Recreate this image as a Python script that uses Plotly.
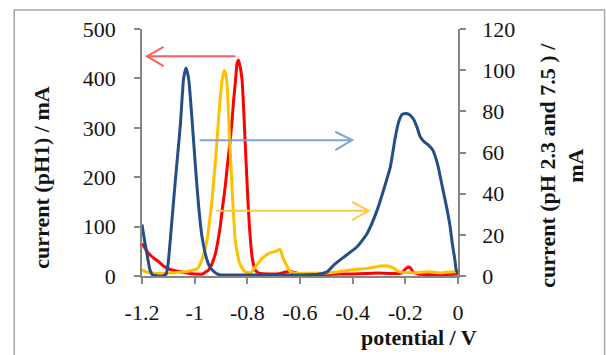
import plotly.graph_objects as go

# ---------------- data ----------------
x_ticks = [-1.2, -1.0, -0.8, -0.6, -0.4, -0.2, 0.0]
x_tick_text = ["-1.2", "-1", "-0.8", "-0.6", "-0.4", "-0.2", "0"]
y_left_ticks = [0, 100, 200, 300, 400, 500]
y_right_ticks = [0, 20, 40, 60, 80, 100, 120]

# pH 1 (left axis, red)
red_x = [-1.200, -1.185, -1.168, -1.150, -1.137, -1.120, -1.105, -1.080, -1.054, -1.020,
         -1.000, -0.970, -0.959, -0.947, -0.934, -0.921, -0.912, -0.903, -0.894, -0.884,
         -0.875, -0.865, -0.858, -0.852, -0.845, -0.839, -0.833, -0.826, -0.820, -0.815,
         -0.811, -0.806, -0.801, -0.797, -0.792, -0.787, -0.782, -0.776, -0.770, -0.760,
         -0.751, -0.720, -0.690, -0.674, -0.655, -0.637, -0.620, -0.600, -0.550, -0.500,
         -0.450, -0.400, -0.350, -0.300, -0.250, -0.215, -0.200, -0.190, -0.180, -0.170,
         -0.150, -0.100, -0.050, 0.000]
red_y = [66, 53, 42, 34, 29, 21, 16, 11, 8.5, 5,
         4, 4, 8, 12, 25, 46, 70, 100, 140, 181,
         228, 275, 315, 356, 395, 430, 437, 420, 397, 350,
         302, 245, 188, 145, 100, 65, 39, 22, 12, 7,
         5, 4, 4, 5, 8, 9, 7, 4, 3, 3,
         4, 4, 5, 6, 5, 6, 14, 18, 16, 8,
         4, 3, 3, 4]

# pH 2.3 (right axis, dark blue)
blue_x = [-1.200, -1.190, -1.180, -1.170, -1.160, -1.140, -1.120, -1.108, -1.100, -1.093,
          -1.083, -1.073, -1.063, -1.054, -1.042, -1.033, -1.023, -1.010, -0.997, -0.985,
          -0.972, -0.956, -0.945, -0.934, -0.915, -0.900, -0.800, -0.700, -0.600, -0.530,
          -0.497, -0.470, -0.428, -0.383, -0.345, -0.307, -0.282, -0.257, -0.238, -0.225,
          -0.212, -0.200, -0.185, -0.168, -0.155, -0.143, -0.127, -0.111, -0.095, -0.086,
          -0.076, -0.067, -0.054, -0.041, -0.030, -0.022, -0.012, -0.007, 0.000]
blue_y = [25, 17, 10, 3, 0.5, 0, 0, 1, 7, 17,
          32, 47, 61, 74, 96, 101, 96, 76, 53, 34,
          19, 9, 5, 3, 1, 0.5, 0.5, 0.5, 0.5, 0.8,
          2, 5.5, 9.7, 14.2, 20.7, 32, 42, 53, 67.5, 75,
          78.5, 79, 78.5, 76, 72, 67.5, 65, 63.5, 61, 58,
          53.5, 48, 40, 32, 24, 16, 8, 3, 1]

# pH 7.5 (right axis, yellow)
yellow_x = [-1.200, -1.185, -1.157, -1.120, -1.080, -1.040, -1.004, -0.991, -0.982, -0.972,
            -0.963, -0.953, -0.944, -0.934, -0.928, -0.921, -0.915, -0.909, -0.903, -0.896,
            -0.887, -0.882, -0.877, -0.872, -0.867, -0.862, -0.858, -0.852, -0.846, -0.838,
            -0.829, -0.818, -0.808, -0.789, -0.780, -0.770, -0.757, -0.744, -0.730, -0.719,
            -0.706, -0.694, -0.684, -0.677, -0.672, -0.668, -0.662, -0.655, -0.646, -0.637,
            -0.618, -0.550, -0.485, -0.440, -0.409, -0.345, -0.295, -0.270, -0.257, -0.240,
            -0.225, -0.168, -0.111, -0.067, -0.030, 0.000]
yellow_y = [3, 2, 1.3, 1.3, 1.6, 2, 2.9, 3.5, 5, 8,
            12, 17.5, 26, 37, 46, 56, 66, 77, 86, 95,
            100, 98, 93.6, 80, 66, 53, 42, 29, 17.5, 11,
            6, 3.5, 2.1, 1.5, 2.5, 4.5, 6.5, 8.6, 10, 11,
            11.5, 11.8, 12.5, 13, 12, 10.2, 8, 6.2, 4, 2.1,
            1.3, 1.3, 1.6, 2.3, 2.9, 3.7, 4.9, 4.9, 4.5, 3.5,
            2.1, 1.6, 2.1, 1.5, 2, 2.1]

# ---------------- styling ----------------
FONT = "Liberation Serif"
TXT = "#141414"
AX = "#868686"
RED = "#ff0000"
BLUE = "#254e86"
YEL = "#ffc000"

fig = go.Figure()
fig.add_trace(go.Scatter(x=red_x, y=red_y, mode="lines", yaxis="y",
                         line=dict(color=RED, width=3, shape="spline", smoothing=0.5),
                         showlegend=False, hoverinfo="skip"))
fig.add_trace(go.Scatter(x=yellow_x, y=yellow_y, mode="lines", yaxis="y2",
                         line=dict(color=YEL, width=3, shape="spline", smoothing=0.5),
                         showlegend=False, hoverinfo="skip"))
fig.add_trace(go.Scatter(x=blue_x, y=blue_y, mode="lines", yaxis="y2",
                         line=dict(color=BLUE, width=3, shape="spline", smoothing=0.5),
                         showlegend=False, hoverinfo="skip"))

tickfont = dict(family=FONT, size=22, color=TXT)
fig.update_layout(
    width=606, height=355,
    margin=dict(l=142, r=148, t=29, b=79),
    paper_bgcolor="white", plot_bgcolor="white",
    xaxis=dict(range=[-1.2, 0], tickvals=x_ticks, ticktext=x_tick_text,
               showgrid=False, zeroline=False, showline=True, linecolor=AX, linewidth=1.5,
               ticks="outside", ticklen=6, tickcolor=AX, tickwidth=1.5,
               tickfont=tickfont, ticklabelstandoff=10),
    yaxis=dict(range=[0, 500], tickvals=y_left_ticks,
               showgrid=False, zeroline=False, showline=True, linecolor=AX, linewidth=1.5,
               ticks="outside", ticklen=6, tickcolor=AX, tickwidth=1.5,
               tickfont=tickfont, ticklabelstandoff=14),
    yaxis2=dict(range=[0, 120], tickvals=y_right_ticks, overlaying="y", side="right",
                showgrid=False, zeroline=False, showline=True, linecolor=AX, linewidth=1.5,
                ticks="outside", ticklen=6, tickcolor=AX, tickwidth=1.5,
                tickfont=tickfont, ticklabelstandoff=12),
)

# outer chart frame
fig.add_shape(type="rect", xref="paper", yref="paper", x0=-0.4044, x1=1.464, y0=-0.36, y1=1.077,
              line=dict(color="#a6a6a6", width=1.5), fillcolor="rgba(0,0,0,0)", layer="below")

# arrows (line + open chevron head), placed in left-axis data coordinates
arrows = [
    dict(color="#ff5c5c", x0=-0.8455, tip=-1.181, back=-1.118, y=445, up=464, dn=425),
    dict(color="#7fa3d6", x0=-0.981, tip=-0.402, back=-0.466, y=275, up=292, dn=255),
    dict(color="#ffc845", x0=-0.918, tip=-0.339, back=-0.402, y=132, up=150, dn=113),
]
for a in arrows:
    fig.add_shape(type="line", xref="x", yref="y", x0=a["x0"], x1=a["tip"], y0=a["y"], y1=a["y"],
                  line=dict(color=a["color"], width=2))
    fig.add_shape(type="path", xref="x", yref="y",
                  path=f"M {a['back']},{a['up']} L {a['tip']},{a['y']} L {a['back']},{a['dn']}",
                  line=dict(color=a["color"], width=2))

titlefont = dict(family=FONT, size=22, color=TXT)
fig.add_annotation(text="<b>current (pH1) / mA</b>", xref="paper", yref="paper",
                   x=-0.319, y=0.399, textangle=-90, showarrow=False, font=titlefont,
                   xanchor="center", yanchor="middle")
fig.add_annotation(text="<b>current (pH 2.3 and 7.5 ) /<br>mA</b>", xref="paper", yref="paper",
                   x=1.328, y=0.449, textangle=-90, showarrow=False, font=titlefont,
                   xanchor="center", yanchor="middle")
fig.add_annotation(text="<b>potential / V</b>", xref="paper", yref="paper",
                   x=0.878, y=-0.251, showarrow=False, font=titlefont,
                   xanchor="center", yanchor="middle")

fig.write_html("out.html")
